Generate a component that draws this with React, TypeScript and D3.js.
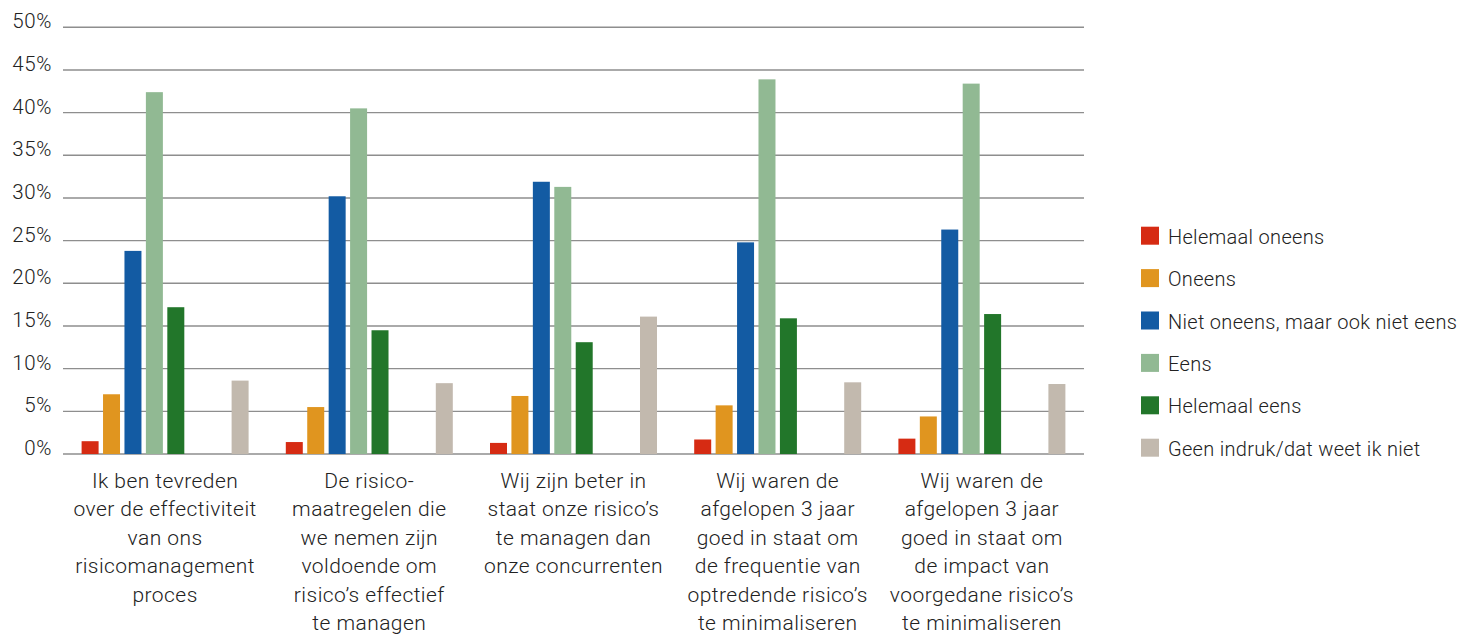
import React from "react";
import * as d3 from "d3";

const categories: string[][] = [
  ["Ik ben tevreden", "over de effectiviteit", "van ons", "risicomanagement", "proces"],
  ["De risico-", "maatregelen die", "we nemen zijn", "voldoende om", "risico\u2019s effectief", "te managen"],
  ["Wij zijn beter in", "staat onze risico\u2019s", "te managen dan", "onze concurrenten"],
  ["Wij waren de", "afgelopen 3 jaar", "goed in staat om", "de frequentie van", "optredende risico\u2019s", "te minimaliseren"],
  ["Wij waren de", "afgelopen 3 jaar", "goed in staat om", "de impact van", "voorgedane risico\u2019s", "te minimaliseren"],
];

const seriesNames = [
  "Helemaal oneens",
  "Oneens",
  "Niet oneens, maar ook niet eens",
  "Eens",
  "Helemaal eens",
  "Geen indruk/dat weet ik niet",
];
const seriesColors = ["#d62b13", "#e0951f", "#135ba3", "#91b993", "#22762a", "#c2b9ae"];
// slot positions within a group (two empty slots before the last series)
const slotKeys = ["s0", "s1", "s2", "s3", "s4", "e1", "e2", "s5"];
const seriesSlots = ["s0", "s1", "s2", "s3", "s4", "s5"];

const helemaalOneens = [1.5, 1.4, 1.3, 1.7, 1.8];
const oneens = [7.0, 5.5, 6.8, 5.7, 4.4];
const neutraal = [23.8, 30.2, 31.9, 24.8, 26.3];
const eens = [42.4, 40.5, 31.3, 43.9, 43.4];
const helemaalEens = [17.2, 14.5, 13.1, 15.9, 16.4];
const geenIndruk = [8.6, 8.3, 16.1, 8.4, 8.2];
const seriesValues = [helemaalOneens, oneens, neutraal, eens, helemaalEens, geenIndruk];

const yTicks = [0, 5, 10, 15, 20, 25, 30, 35, 40, 45, 50];

const W = 1472;
const H = 638;
const FONT = "Roboto, 'Noto Sans', sans-serif";

export default function App() {
  const margin = { left: 63, right: 1084, top: 27.3, bottom: 454 };
  const y = d3.scaleLinear().domain([0, 50]).range([margin.bottom, margin.top]);
  const groupIdx = categories.map((_, i) => String(i));
  const x0 = d3.scaleBand<string>().domain(groupIdx).range([margin.left, margin.right]).padding(0);
  const x1 = d3
    .scaleBand<string>()
    .domain(slotKeys)
    .range([0, x0.bandwidth()])
    .paddingInner(0.207)
    .paddingOuter(0.868);

  return (
    <svg
      width={W}
      height={H}
      style={{ position: "absolute", left: 0, top: 0, background: "#fff" }}
      fontFamily={FONT}
    >
      <rect x={0} y={0} width={W} height={H} fill="#fff" />
      {yTicks.map((t) => (
        <g key={t}>
          <line
            x1={margin.left}
            x2={margin.right}
            y1={y(t)}
            y2={y(t)}
            stroke="#8e8e8e"
            strokeWidth={1.4}
          />
          <text
            x={52}
            y={y(t) + 1}
            textAnchor="end"
            fontSize={20.5}
            fontWeight={300}
            letterSpacing={0.6}
            fill="#222"
          >
            {t}%
          </text>
        </g>
      ))}
      {groupIdx.map((g, gi) => (
        <g key={g} transform={`translate(${x0(g)},0)`}>
          {seriesValues.map((vals, si) => (
            <rect
              key={si}
              x={x1(seriesSlots[si])}
              y={y(vals[gi])}
              width={x1.bandwidth()}
              height={y(0) - y(vals[gi])}
              fill={seriesColors[si]}
            />
          ))}
        </g>
      ))}
      {categories.map((lines, gi) => (
        <text
          key={gi}
          x={(x0(String(gi)) as number) + x0.bandwidth() / 2}
          y={488}
          textAnchor="middle"
          fontSize={21}
          fontWeight={300}
          letterSpacing={0.45}
          fill="#222"
        >
          {lines.map((l, li) => (
            <tspan key={li} x={(x0(String(gi)) as number) + x0.bandwidth() / 2} y={488 + li * 28.4}>
              {l}
            </tspan>
          ))}
        </text>
      ))}
      {seriesNames.map((name, i) => (
        <g key={name} transform={`translate(1141,${226.7 + i * 42.4})`}>
          <rect x={0} y={0} width={18} height={18} fill={seriesColors[i]} />
          <text x={27} y={17} fontSize={20} fontWeight={300} letterSpacing={0.3} fill="#222">
            {name}
          </text>
        </g>
      ))}
    </svg>
  );
}
